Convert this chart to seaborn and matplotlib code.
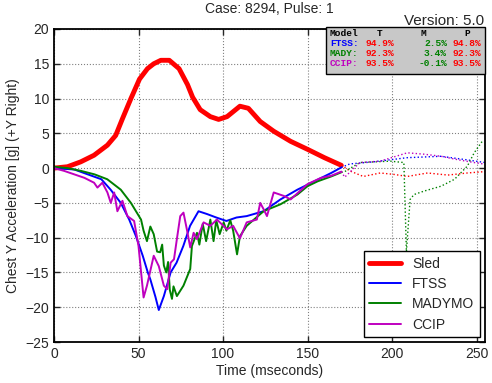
import matplotlib

matplotlib.use("Agg")

import matplotlib.pyplot as plt
import numpy as np
import pandas as pd
import seaborn as sns
from matplotlib.patches import Rectangle

# --- data (time in ms, acceleration in g) ---
sled_t = [0, 8, 15.8, 23.7, 31.6, 36.5, 40.5, 45.5, 50.6, 55.3, 59, 63.2, 68.2, 74, 79, 82,
          86.5, 92.5, 97.4, 102.4, 110, 115, 122, 130, 140, 150, 160, 170,
          175, 183, 193, 201, 209, 221, 233, 244.6, 255]
sled_y = [0, 0.2, 0.9, 1.85, 3.3, 4.7, 7.1, 10.0, 12.8, 14.3, 15.0, 15.5, 15.5, 14.3, 12.0, 10.2,
          8.4, 7.4, 7.0, 7.4, 8.9, 8.6, 6.7, 5.3, 3.85, 2.7, 1.5, 0.4,
          -0.4, -1.2, -0.7, -0.9, -1.2, -0.7, -1.0, -0.7, -0.5]

ftss_t = [0, 12, 20, 28, 33.5, 39.5, 44.5, 48.5, 52.5, 55.5, 57, 60, 62, 65, 69, 72.5, 76.5,
          80.5, 85.5, 90.5, 96, 102, 108, 114, 124, 134, 144, 154, 164, 170,
          175, 189, 209, 229, 244, 255]
ftss_y = [0, -0.2, -0.9, -1.6, -3.1, -5, -7.4, -9.8, -12.6, -15, -16, -18.5, -20.4, -18.4, -15,
          -13.6, -11.2, -8.3, -6.2, -6.6, -7.1, -7.6, -7.1, -6.9, -6.2, -4.5, -3.1, -1.9, -0.7, 0.1,
          0.6, 0.9, 1.5, 1.7, 1.2, 0.8]

mady_t = [0, 8, 16, 24, 31.5, 39.5, 45.5, 51.5, 53, 55, 57, 59, 61, 62.8, 64, 65, 66.4, 67.5,
          68.5, 69.8, 70.7, 72.7, 76.6, 80.6, 81.6, 84.6, 86, 88, 90, 92.5, 94.4, 96, 98, 100.4,
          102, 104.3, 106, 108.3, 110, 114, 124, 134, 144, 150, 156, 164, 170,
          172, 181, 199, 207, 208.5, 210.7, 213, 219, 229, 237, 244.6, 248.6, 253.5]
mady_y = [0.2, 0, -0.4, -0.9, -1.6, -3.1, -5, -7.4, -9.0, -10.5, -8.4, -9.5, -12.0, -12.1, -11,
          -14, -15, -13.5, -17.5, -18.8, -17, -18.4, -16.9, -14.5, -11.2, -9.3, -11, -8, -10.5,
          -7.4, -10.5, -7.5, -9.5, -7.8, -9, -7.5, -9, -12.4, -9.8, -8.3, -6.2, -5.2, -3.8, -2.6,
          -1.9, -1.2, -0.6,
          -0.5, 0.8, 1.0, 0.8, -12, -4.5, -3.8, -3.3, -2.6, -1.6, 0.3, 2.2, 3.9]

ccip_t = [0, 6, 12, 18, 23.7, 25.7, 28.6, 31.6, 33.6, 35.6, 37.5, 40.5, 43.4, 47.4, 50, 53, 55,
          59, 62, 65, 67, 69, 71, 72.7, 74.7, 76.6, 78.6, 80.6, 82.6, 84.6, 88.5, 92.5, 96.4,
          102.4, 106, 110, 114, 120, 122, 124, 126, 130, 136, 140, 150, 158, 164, 170,
          172, 181, 193, 209, 219, 229, 239, 248.6, 254]
ccip_y = [0, -0.4, -0.9, -1.4, -2.1, -2.8, -2.1, -3.5, -5, -3.5, -6.2, -4.7, -6.9, -7.6, -11.2,
          -18.6, -16.9, -12.6, -14.1, -16.9, -17.4, -13.6, -13.1, -10.2, -6.9, -6.4, -8.8, -11.4,
          -9.3, -10.2, -7.8, -8.3, -7.4, -8.8, -8.3, -10.1, -7.8, -7.4, -5, -5.9, -6.9, -3.5, -4,
          -4.5, -2.3, -1.4, -1.1, -0.5,
          -1.3, 0.8, 1.0, 2.2, 2.0, 1.7, 1.2, 0.8, 0.6]

cutoff = 170
series = [
    ("Sled", sled_t, sled_y, "#ff0000", 3.5),
    ("FTSS", ftss_t, ftss_y, "#0000ff", 1.4),
    ("MADYMO", mady_t, mady_y, "#008000", 1.4),
    ("CCIP", ccip_t, ccip_y, "#bf00bf", 1.4),
]

models = ["FTSS:", "MADY:", "CCIP:"]
model_colors = ["#0000ff", "#008000", "#bf00bf"]
score_t = ["94.9%", "92.3%", "93.5%"]
score_m = ["2.5%", "3.4%", "-0.1%"]
score_p = ["94.8%", "92.3%", "93.5%"]

sns.set_style("ticks")
plt.rcParams["font.family"] = ["Liberation Sans", "DejaVu Sans"]

W, H = 492, 383
fig = plt.figure(figsize=(W / 100, H / 100), dpi=100)
ax = fig.add_axes([54 / W, 1 - 342 / H, (485 - 54) / W, (342 - 29) / H])

for name, t, y, color, lw in series:
    df = pd.DataFrame({"t": t, "y": y})
    solid = df[df["t"] <= cutoff]
    dotted = df[df["t"] >= cutoff]
    sns.lineplot(data=solid, x="t", y="y", ax=ax, color=color, lw=lw, label=name,
                 estimator=None, sort=False)
    sns.lineplot(data=dotted, x="t", y="y", ax=ax, color=color, lw=1.0, ls=":",
                 estimator=None, sort=False, legend=False)

ax.set_xlim(0, 255)
ax.set_ylim(-25, 20)
ax.set_xticks(np.arange(0, 251, 50))
ax.set_yticks(np.arange(-25, 21, 5))
ax.grid(True, color="#808080", ls=":", lw=0.8)
ax.tick_params(direction="in", top=True, right=True, length=4, labelsize=10, width=1)
for s in ax.spines.values():
    s.set_linewidth(1.3)
    s.set_color("black")
ax.set_xlabel("Time (mseconds)", fontsize=10, labelpad=2)
ax.set_ylabel("Chest Y Acceleration [g] (+Y Right)", fontsize=10, labelpad=4)

leg = ax.legend(loc="lower right", fontsize=10, frameon=True, fancybox=False,
                edgecolor="black", framealpha=1, handlelength=2.3,
                borderaxespad=0.35, labelspacing=0.45)
leg.get_frame().set_linewidth(1.0)

fig.text(269.5 / W, 1 - 9 / H, "Case: 8294, Pulse: 1", ha="center", va="center", fontsize=10)
fig.text(484 / W, 1 - 25 / H, "Version: 5.0", ha="right", va="baseline", fontsize=11)

# score table box
fig.patches.append(Rectangle((326 / W, 1 - 74 / H), (485 - 326) / W, (74 - 27) / H,
                             transform=fig.transFigure, facecolor="#c8c8c8",
                             edgecolor="black", lw=1, zorder=5))
mono = dict(family=["Liberation Mono", "DejaVu Sans Mono"], fontsize=6.8,
            fontweight="bold", zorder=6)
row_y = [43, 53.5, 64]
head_y = 1 - 33 / H
fig.text(330 / W, head_y, "Model", ha="left", va="center", color="black", **mono)
fig.text(380 / W, head_y, "T", ha="center", va="center", color="black", **mono)
fig.text(423 / W, head_y, "M", ha="center", va="center", color="black", **mono)
fig.text(467 / W, head_y, "P", ha="center", va="center", color="black", **mono)
for i in range(3):
    yy = 1 - row_y[i] / H
    fig.text(330 / W, yy, models[i], ha="left", va="center", color=model_colors[i], **mono)
    fig.text(394 / W, yy, score_t[i], ha="right", va="center", color="#ff0000", **mono)
    fig.text(447 / W, yy, score_m[i], ha="right", va="center", color="#008000", **mono)
    fig.text(481 / W, yy, score_p[i], ha="right", va="center", color="#ff0000", **mono)

fig.savefig("out.png", dpi=100)
